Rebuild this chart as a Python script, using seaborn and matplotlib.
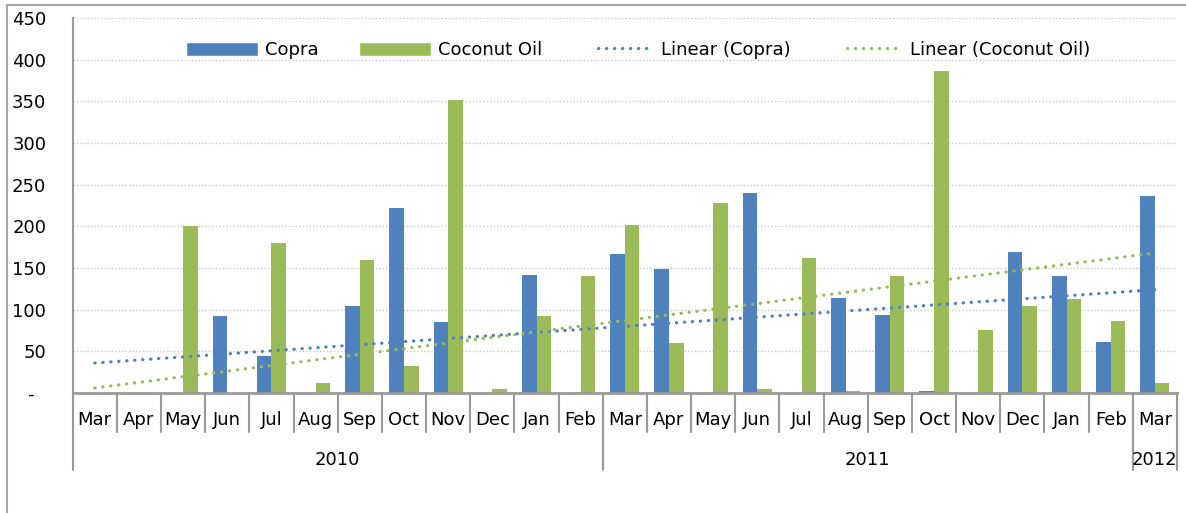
import matplotlib
matplotlib.use("Agg")
import matplotlib.pyplot as plt
import matplotlib.transforms as mtransforms
from matplotlib.legend_handler import HandlerLine2D
from matplotlib.lines import Line2D
from matplotlib.patches import Patch
import numpy as np
import pandas as pd
import seaborn as sns

# --- data ---
months = ["Mar", "Apr", "May", "Jun", "Jul", "Aug", "Sep", "Oct", "Nov", "Dec", "Jan", "Feb",
          "Mar", "Apr", "May", "Jun", "Jul", "Aug", "Sep", "Oct", "Nov", "Dec", "Jan", "Feb",
          "Mar"]
years = ["2010", "2011", "2012"]
year_sizes = [12, 12, 1]
copra = [0, 0, 0, 92, 45, 0, 105, 222, 85, 0, 142, 0,
         167, 149, 0, 240, 0, 114, 94, 3, 0, 169, 140, 61, 237]
coconut_oil = [0, 0, 200, 0, 180, 12, 160, 32, 352, 5, 93, 140,
               202, 60, 228, 5, 162, 3, 140, 387, 76, 105, 113, 87, 12]
# linear trend values at first and last month, as drawn in the reference
copra_trend = [36, 124]
oil_trend = [6, 168]
yticks = [0, 50, 100, 150, 200, 250, 300, 350, 400, 450]

BLUE = "#4F81BD"
GREEN = "#9BBB59"
GREY = "#999999"


class ShortLineHandler(HandlerLine2D):
    """Legend key for the trend lines: shorter than the bar swatches."""
    def get_xdata(self, legend, xdescent, ydescent, width, height, fontsize):
        x0 = -xdescent + 0.22 * width
        x1 = -xdescent + 0.95 * width
        return np.array([x0, x1]), np.array([(x0 + x1) / 2])


keys = [f"{i:02d}" for i in range(len(months))]
df = pd.DataFrame({
    "key": keys * 2,
    "value": copra + coconut_oil,
    "series": ["Copra"] * len(keys) + ["Coconut Oil"] * len(keys),
})

sns.set_style("white")
plt.rcParams["font.family"] = ["DejaVu Sans"]
plt.rcParams["text.color"] = "black"
plt.rcParams["ytick.labelcolor"] = "black"

fig = plt.figure(figsize=(11.86, 5.13), dpi=100)
ax = fig.add_axes([72.7 / 1186, 1 - 393 / 513, (1177 - 72.7) / 1186, 375 / 513])

sns.barplot(data=df, x="key", y="value", hue="series", order=keys,
            hue_order=["Copra", "Coconut Oil"], palette=[BLUE, GREEN],
            width=0.66, gap=0, saturation=1, linewidth=0, edgecolor="none",
            legend=False, ax=ax, zorder=2)

n = len(months)
dot = dict(linewidth=2.3, linestyle=(0, (0.1, 2.4)), dash_capstyle="round")
ax.plot([0, n - 1], copra_trend, color=BLUE, zorder=3, **dot)
ax.plot([0, n - 1], oil_trend, color=GREEN, zorder=3, **dot)

ax.set_xlim(-0.5, n - 0.5)
ax.set_ylim(0, 450)
ax.set_yticks(yticks)
ax.set_yticklabels(["-  "] + [str(v) for v in yticks[1:]], fontsize=13, color="black")
ax.yaxis.grid(True, color="#c8c8c8", linestyle=(0, (1, 1.5)), linewidth=1)
ax.set_axisbelow(True)
ax.tick_params(axis="y", length=5, width=1.5, color=GREY, pad=14)
ax.set_xlabel("")
ax.set_ylabel("")

for side in ["top", "right"]:
    ax.spines[side].set_visible(False)
ax.spines["left"].set_color(GREY)
ax.spines["left"].set_linewidth(1.5)
ax.spines["bottom"].set_color(GREY)
ax.spines["bottom"].set_linewidth(2)

# multi-level category axis
ax.set_xticks(range(n))
ax.set_xticklabels([])
ax.tick_params(axis="x", length=0)
trans = mtransforms.blended_transform_factory(ax.transData, ax.transAxes)
for i, m in enumerate(months):
    ax.text(i, -0.072, m, transform=trans, ha="center", va="center", fontsize=13)
year_edges = [-0.5]
for s in year_sizes:
    year_edges.append(year_edges[-1] + s)
for i in range(n + 1):
    edge = i - 0.5
    bottom = -0.205 if edge in year_edges else -0.104
    ax.plot([edge, edge], [0, bottom], transform=trans, color=GREY,
            linewidth=1.5, clip_on=False)
for y, a, b in zip(years, year_edges[:-1], year_edges[1:]):
    ax.text((a + b) / 2, -0.179, y, transform=trans, ha="center", va="center", fontsize=13)

handles = [
    Patch(facecolor=BLUE, label="Copra"),
    Patch(facecolor=GREEN, label="Coconut Oil"),
    Line2D([], [], color=BLUE, label="Linear (Copra)", **dot),
    Line2D([], [], color=GREEN, label="Linear (Coconut Oil)", **dot),
]
short = ShortLineHandler()
ax.legend(handles=handles, loc="center", bbox_to_anchor=(0.512, 0.915), ncol=4,
          frameon=False, fontsize=13, handlelength=4, handleheight=0.8,
          handletextpad=0.4, columnspacing=2.2, labelcolor="black",
          handler_map={handles[2]: short, handles[3]: short})

# outer chart border (top and left visible)
fig.add_artist(Line2D([7 / 1186, 7 / 1186], [0, 1 - 5 / 513], color="#a6a6a6", linewidth=1.5))
fig.add_artist(Line2D([7 / 1186, 1], [1 - 5 / 513, 1 - 5 / 513], color="#a6a6a6", linewidth=1.5))

fig.savefig("out.png", dpi=100)
plt.close(fig)
